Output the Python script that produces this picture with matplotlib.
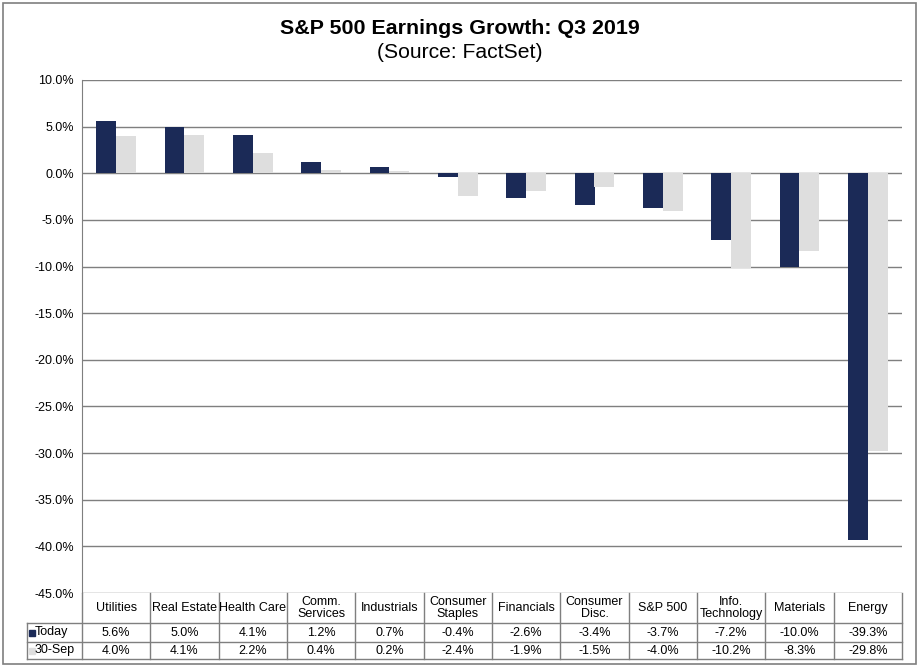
import numpy as np
import matplotlib.pyplot as plt
from matplotlib.patches import Rectangle

plt.rcParams['font.family'] = ['Liberation Sans', 'DejaVu Sans']

# dados
setores = ['Utilities', 'Real Estate', 'Health Care', 'Comm.\nServices', 'Industrials',
           'Consumer\nStaples', 'Financials', 'Consumer\nDisc.', 'S&P 500',
           'Info.\nTechnology', 'Materials', 'Energy']
hoje = [5.6, 5.0, 4.1, 1.2, 0.7, -0.4, -2.6, -3.4, -3.7, -7.2, -10.0, -39.3]
set30 = [4.0, 4.1, 2.2, 0.4, 0.2, -2.4, -1.9, -1.5, -4.0, -10.2, -8.3, -29.8]
series_nomes = ['Today', '30-Sep']

cor_hoje = '#1b2a57'
cor_set = '#dedede'
cor_linha = '#7f7f7f'

W, H = 920, 671
fig = plt.figure(figsize=(W / 100, H / 100), dpi=100)

# borda externa
fig.patches.append(Rectangle((3 / W, 1 - 664 / H), 913 / W, 661 / H, transform=fig.transFigure,
                             fill=False, edgecolor=cor_linha, lw=1.2))

fig.text(0.5, 1 - 28 / H, 'S&P 500 Earnings Growth: Q3 2019', ha='center', va='center',
         fontsize=15.4, fontweight='bold')
fig.text(0.5, 1 - 53 / H, '(Source: FactSet)', ha='center', va='center', fontsize=15.2)

# grafico principal
x0, x1, ytop, ybot = 82, 902, 80, 593
ax = fig.add_axes([x0 / W, 1 - ybot / H, (x1 - x0) / W, (ybot - ytop) / H])
n = len(setores)
x = np.arange(n)
w = 0.29
ax.bar(x - w / 2, hoje, w, color=cor_hoje, zorder=3)
ax.bar(x + w / 2, set30, w, color=cor_set, zorder=3)
ax.set_xlim(-0.5, n - 0.5)
ax.set_ylim(-45, 10)
ax.set_yticks(np.arange(-45, 10.1, 5))
ax.set_yticklabels([f'{v:.1f}%' for v in np.arange(-45, 10.1, 5)], fontsize=9)
ax.set_xticks([])
ax.tick_params(axis='y', length=0, pad=6)
ax.grid(axis='y', color=cor_linha, lw=1, zorder=0)
for s in ['top', 'right', 'bottom']:
    ax.spines[s].set_visible(False)
ax.spines['left'].set_color(cor_linha)

# tabela de dados
cat_w = (x1 - x0) / n
tx0, tyb = 27, 659
tax = fig.add_axes([tx0 / W, 1 - tyb / H, (x1 - tx0) / W, (tyb - ybot) / H])
xl = -0.5 - (x0 - tx0) / cat_w
tax.set_xlim(xl, n - 0.5)
tax.set_ylim(tyb - ybot, 0)
tax.axis('off')
kw = dict(color=cor_linha, lw=1, clip_on=False)
for yy in [30, 49, 66]:
    tax.plot([xl, n - 0.5], [yy, yy], **kw)
for k in range(n + 1):
    tax.plot([-0.5 + k, -0.5 + k], [0, 66], **kw)
tax.plot([xl, xl], [30, 66], **kw)

for i, s in enumerate(setores):
    tax.text(i, 15, s, ha='center', va='center', fontsize=9, linespacing=1.0)
    tax.text(i, 39.5, f'{hoje[i]:.1f}%', ha='center', va='center', fontsize=9)
    tax.text(i, 57.5, f'{set30[i]:.1f}%', ha='center', va='center', fontsize=9)

for yy, nome, cor in [(39.5, series_nomes[0], cor_hoje), (57.5, series_nomes[1], cor_set)]:
    tax.plot([xl + 4.5 / cat_w], [yy], marker='s', ms=5, color=cor, clip_on=False)
    tax.text(xl + 8 / cat_w, yy, nome, ha='left', va='center', fontsize=9)

fig.savefig('out.png', dpi=100)
